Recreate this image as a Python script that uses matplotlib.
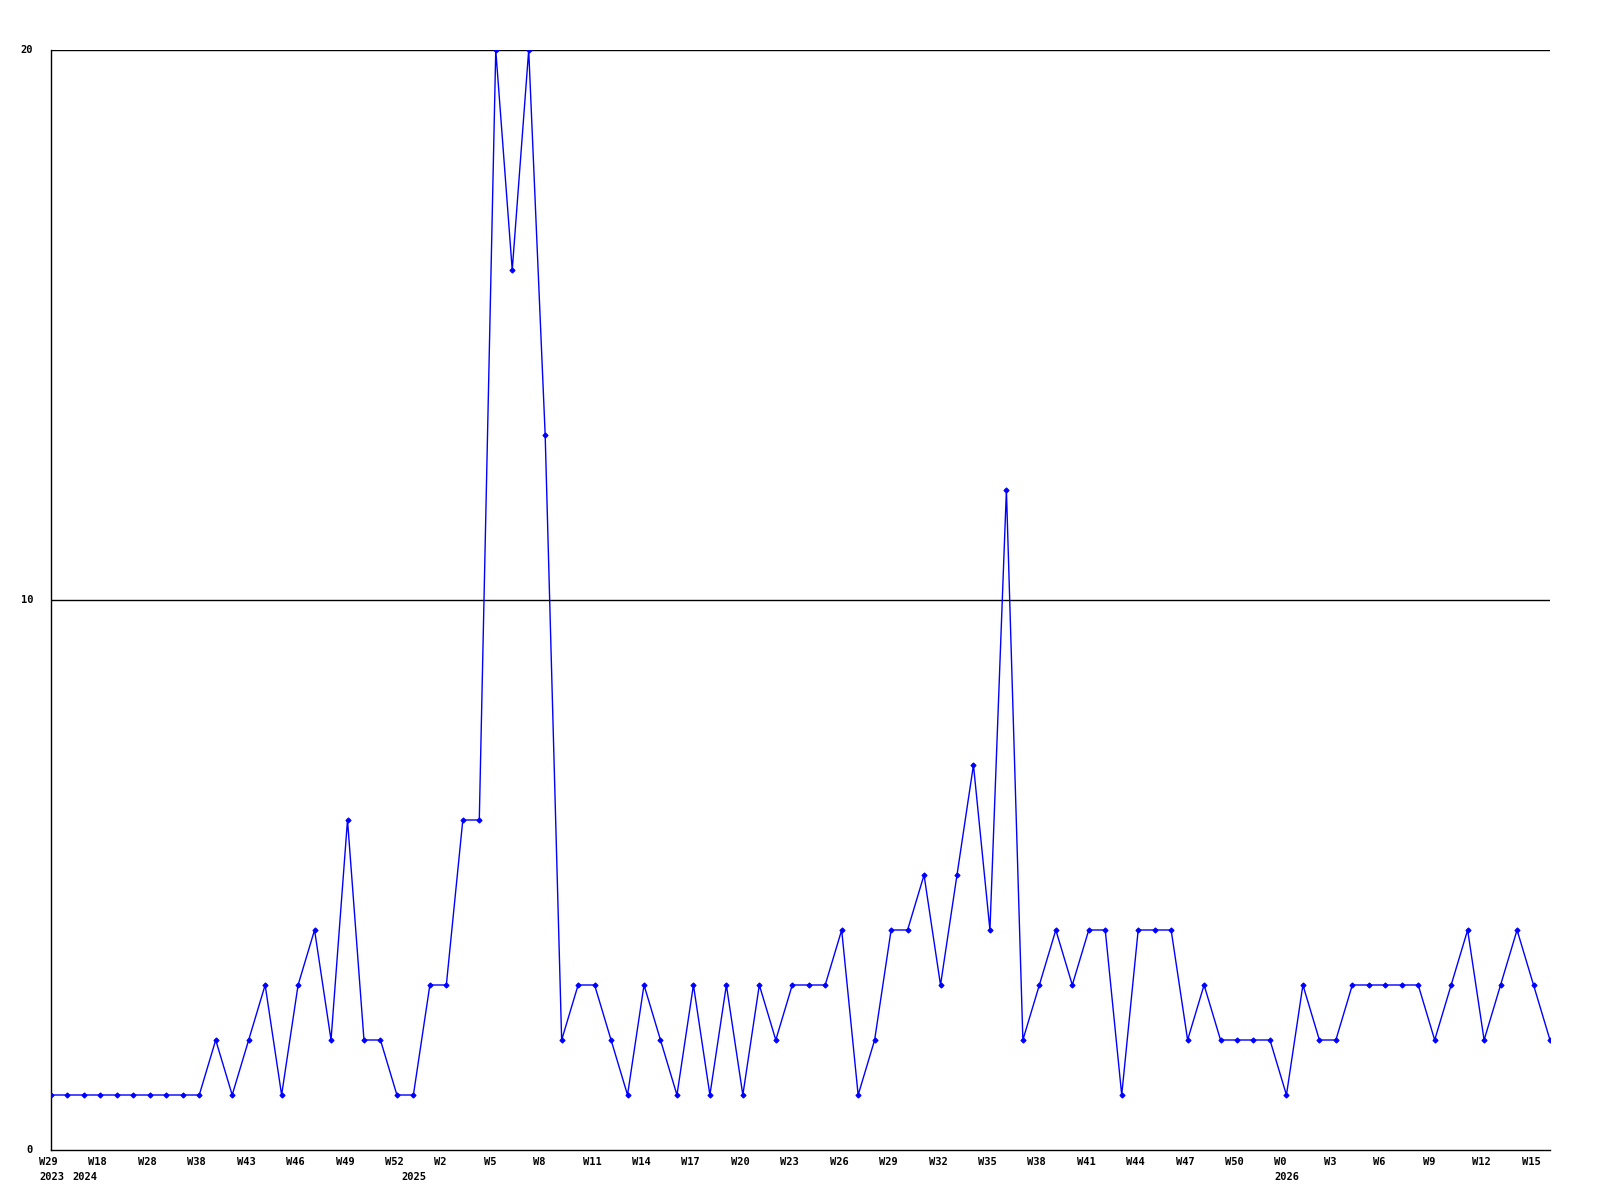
import matplotlib
matplotlib.use("Agg")
import matplotlib.pyplot as plt

values = [1, 1, 1, 1, 1, 1, 1, 1, 1, 1,
          2, 1, 2, 3, 1, 3, 4, 2, 6, 2,
          2, 1, 1, 3, 3, 6, 6, 20, 16, 20,
          13, 2, 3, 3, 2, 1, 3, 2, 1, 3,
          1, 3, 1, 3, 2, 3, 3, 3, 4, 1,
          2, 4, 4, 5, 3, 5, 7, 4, 12, 2,
          3, 4, 3, 4, 4, 1, 4, 4, 4, 2,
          3, 2, 2, 2, 2, 1, 3, 2, 2, 3,
          3, 3, 3, 3, 2, 3, 4, 2, 3, 4,
          3, 2]

tick_labels = ["W29", "W18", "W28", "W38", "W43", "W46", "W49", "W52", "W2", "W5",
               "W8", "W11", "W14", "W17", "W20", "W23", "W26", "W29", "W32", "W35",
               "W38", "W41", "W44", "W47", "W50", "W0", "W3", "W6", "W9", "W12", "W15"]
tick_step = 3
year_labels = ["2023", "2024", "2025", "2026"]
year_positions = [0, 2, 22, 75]
y_ticks = [0, 10, 20]

fig = plt.figure(figsize=(16, 12), dpi=100)
ax = fig.add_axes([51/1600, 50/1200, 1499/1600, 1100/1200])

x = list(range(len(values)))
ax.plot(x, values, color="#0000ff", lw=1.0, marker="D", markersize=2.6,
        markeredgewidth=0.8, zorder=3)

ax.set_xlim(0, len(values) - 1)
ax.set_ylim(0, 20)

for s in ["top", "right"]:
    ax.spines[s].set_visible(False)
for s in ["left", "bottom"]:
    ax.spines[s].set_linewidth(1.0)
    ax.spines[s].set_color("black")

for yv in y_ticks[1:]:
    ax.axhline(yv, color="black", lw=1.0, zorder=1)

font = dict(family="DejaVu Sans Mono", fontsize=7.5, fontweight="bold")

ax.set_xticks([])
ax.set_yticks([])

for k, lab in enumerate(tick_labels):
    ax.annotate(lab, xy=(k * tick_step, 0), xytext=(-12, -12),
                textcoords="offset pixels", ha="left", va="center",
                annotation_clip=False, **font)
for pos, lab in zip(year_positions, year_labels):
    ax.annotate(lab, xy=(pos, 0), xytext=(-12, -27),
                textcoords="offset pixels", ha="left", va="center",
                annotation_clip=False, **font)
for yv in y_ticks:
    ax.annotate(str(yv), xy=(0, yv), xytext=(-18, 0),
                textcoords="offset pixels", ha="right", va="center",
                annotation_clip=False, **font)

fig.savefig("out.png", dpi=100)
